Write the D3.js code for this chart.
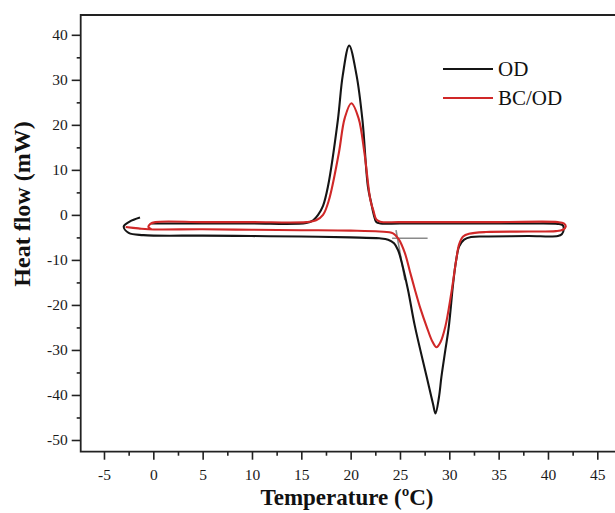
<!DOCTYPE HTML>
<html lang="en">
    <head>
        <meta charset="utf-8" />
        <title>DSC curves</title>
        <style>
            body { margin: 0; background: #fff; }
            svg text { font-family: 'Liberation Serif', 'Times New Roman', serif; }
        </style>
    </head>
    <body>
        <div id="chart"></div>

        <script type="text/javascript" src="https://d3js.org/d3.v7.min.js"></script>
        <script>

            // OD curve: heating run (bottom) then cooling run (top)
            const odTemp = [-1.35, -2.4, -3.0, -2.5, -1.0, 5, 10, 15, 20, 22.9, 23.8, 24.4, 24.8, 25.05, 25.8, 26.5, 27.7, 28.35, 28.6,
                            28.95, 29.2, 29.6, 29.95, 30.4, 30.7, 31.0, 31.5, 32.2, 34, 38, 41.0, 41.4, 41.6, 41.5, 41.0, 38, 30, 25, 23,
                            22.6, 22.35, 22.1, 21.75, 21.2, 20.6, 19.85, 19.2, 18.7, 17.7, 17.2, 16.7, 16.2, 15.5, 10, 5, 0, -0.2];
            const odFlow = [-0.6, -1.5, -2.6, -4.0, -4.5, -4.6, -4.7, -4.8, -5.0, -5.2, -5.5, -6.3, -7.8, -9.5, -16.5, -24.6, -35.9, -42, -44.1,
                            -40.5, -36, -30, -24.8, -15, -10, -7.0, -5.5, -4.9, -4.8, -4.7, -4.7, -4.3, -3.2, -2.3, -2.0, -1.9, -1.9, -1.9, -1.9,
                            -1.6, 0, 2.5, 6.3, 21, 31, 37.6, 31, 21, 6.3, 2, 0, -1.2, -1.8, -1.9, -1.9, -1.9, -1.9];

            // BC/OD curve
            const bcTemp = [-2.8, -1.5, -0.5, 5, 10, 15, 20, 22.9, 24.3, 24.9, 25.5, 26.0, 26.5, 27.1, 27.7, 28.3, 28.7, 29.1, 29.6, 30.2, 30.7,
                            31.0, 31.4, 32.0, 33.7, 38, 40.8, 41.5, 41.8, 41.6, 41.0, 35, 25, 23, 22.6, 22.3, 22.0, 21.4, 20.8, 20.07, 19.4, 18.8,
                            17.8, 17.2, 16.5, 15.5, 10, 5, 0.2, -0.3, -0.5, -0.2];
            const bcFlow = [-2.7, -3.0, -3.2, -3.2, -3.3, -3.4, -3.5, -3.7, -4.1, -5.5, -8.5, -12.5, -16.5, -21, -24.8, -28.2, -29.4, -28.3, -24.8, -17.4, -10,
                            -6.5, -4.8, -4.2, -3.8, -3.7, -3.6, -3.3, -2.6, -1.9, -1.6, -1.6, -1.6, -1.5, -1.0, 1.0, 3.3, 13.7, 21.5, 24.8, 21.5, 13.7,
                            3.3, 0, -1.2, -1.6, -1.6, -1.6, -1.6, -2.0, -2.7, -3.2];

            // onset construction lines (grey)
            const onsetBaseTemp = [24.2, 27.8];
            const onsetBaseFlow = [-5.2, -5.2];
            const onsetSlopeTemp = [24.6, 25.5];
            const onsetSlopeFlow = [-3.4, -14.5];

            const xTicks = [-5, 0, 5, 10, 15, 20, 25, 30, 35, 40, 45];
            const yTicks = [-50, -40, -30, -20, -10, 0, 10, 20, 30, 40];
            const seriesNames = ["OD", "BC/OD"];
            const seriesColors = ["#151515", "#d02828"];

            const width = 615;
            const height = 513;
            const plotLeft = 80.7, plotRight = 620, plotTop = 15, plotBottom = 451.7;
            const font = "'Liberation Serif', 'Times New Roman', serif";

            const x = d3.scaleLinear().domain([-7.36, 47.3]).range([plotLeft, plotRight]);
            const y = d3.scaleLinear().domain([-52.6, 44.4]).range([plotBottom, plotTop]);

            const svg = d3.select("#chart")
                .append("svg")
                .attr("width", width)
                .attr("height", height);

            const zip = (t, v) => t.map((d, i) => [d, v[i]]);

            const line = d3.line()
                .x(d => x(d[0]))
                .y(d => y(d[1]))
                .curve(d3.curveCatmullRom.alpha(0.5));

            // grey onset lines under the curves
            [zip(onsetBaseTemp, onsetBaseFlow), zip(onsetSlopeTemp, onsetSlopeFlow)].forEach(pts => {
                svg.append("path")
                    .attr("d", d3.line().x(d => x(d[0])).y(d => y(d[1]))(pts))
                    .attr("fill", "none")
                    .attr("stroke", "#8a8a8a")
                    .attr("stroke-width", 1.6);
            });

            const curves = [zip(odTemp, odFlow), zip(bcTemp, bcFlow)];
            curves.forEach((pts, i) => {
                svg.append("path")
                    .attr("d", line(pts))
                    .attr("fill", "none")
                    .attr("stroke", seriesColors[i])
                    .attr("stroke-width", 2.1)
                    .attr("stroke-linejoin", "round");
            });

            // axes
            const xMinor = xTicks.map(d => d + 2.5).concat([-7.5]).filter(d => d > -7.36 && d < 47.3);
            const yMinor = yTicks.map(d => d + 5).filter(d => d < 44.4);

            const gx = svg.append("g").attr("transform", `translate(0,${plotBottom})`);
            gx.call(d3.axisBottom(x).tickValues(xMinor).tickSize(4).tickFormat(""));
            gx.select(".domain").remove();
            const gx2 = svg.append("g").attr("transform", `translate(0,${plotBottom})`);
            gx2.call(d3.axisBottom(x).tickValues(xTicks).tickSize(8).tickPadding(9).tickFormat(d => d));
            gx2.select(".domain").remove();

            const gy = svg.append("g").attr("transform", `translate(${plotLeft},0)`);
            gy.call(d3.axisLeft(y).tickValues(yMinor).tickSize(4).tickFormat(""));
            gy.select(".domain").remove();
            const gy2 = svg.append("g").attr("transform", `translate(${plotLeft},0)`);
            gy2.call(d3.axisLeft(y).tickValues(yTicks).tickSize(9).tickPadding(4).tickFormat(d => d));
            gy2.select(".domain").remove();

            svg.selectAll("g").attr("font-family", font).attr("font-size", 15.5);
            svg.selectAll(".tick line")
                .attr("stroke", "#222")
                .attr("stroke-width", 1.6);
            svg.selectAll(".tick text")
                .attr("font-family", font)
                .attr("font-size", 15.5)
                .attr("fill", "#1a1a1a");

            // frame: left, top, bottom
            svg.append("path")
                .attr("d", `M${plotRight},${plotTop}H${plotLeft}V${plotBottom}H${plotRight}`)
                .attr("fill", "none")
                .attr("stroke", "#222")
                .attr("stroke-width", 1.8);

            // axis titles
            svg.append("text")
                .attr("x", 347)
                .attr("y", 505)
                .attr("text-anchor", "middle")
                .attr("font-weight", "bold")
                .attr("font-size", 23)
                .attr("fill", "#111")
                .text("Temperature (ºC)");

            svg.append("text")
                .attr("transform", "translate(30,204) rotate(-90)")
                .attr("text-anchor", "middle")
                .attr("font-weight", "bold")
                .attr("font-size", 24)
                .attr("fill", "#111")
                .text("Heat flow (mW)");

            // legend
            const legend = svg.selectAll(".legend")
                .data(seriesNames)
                .enter()
                .append("g")
                .attr("class", "legend")
                .attr("transform", (d, i) => `translate(443,${69 + i * 29})`);

            legend.append("line")
                .attr("x1", 0)
                .attr("x2", 50)
                .attr("stroke", (d, i) => seriesColors[i])
                .attr("stroke-width", 2);

            legend.append("text")
                .attr("x", 55)
                .attr("y", 7)
                .attr("font-size", 21)
                .attr("fill", "#111")
                .text(d => d);
        </script>
    </body>
</html>
